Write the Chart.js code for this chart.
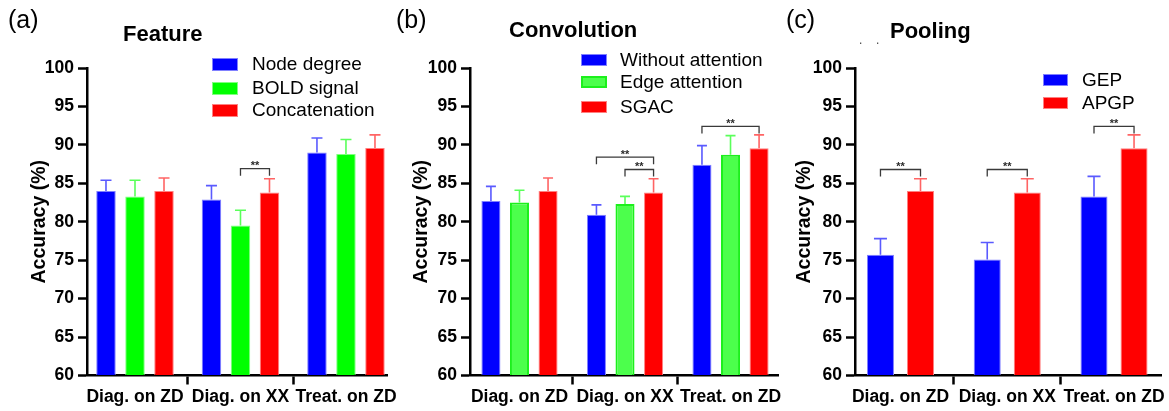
<!DOCTYPE html>
<html><head><meta charset="utf-8">
<script src="https://cdn.jsdelivr.net/npm/chart.js@4.4.1/dist/chart.umd.min.js"></script>
<style>
html,body{margin:0;padding:0;background:#fff;overflow:hidden;width:1169px;height:411px;}
body{position:relative;font-family:'Liberation Sans',Arial,Helvetica,sans-serif;}
canvas{position:absolute;top:0;}
.t{position:absolute;white-space:nowrap;color:#000;line-height:1;}
.panel{font-size:25px;font-weight:normal;}
.title{font-size:22px;font-weight:bold;}
.lrow{position:absolute;height:22px;display:flex;align-items:center;white-space:nowrap;font-size:19px;color:#000;}
.sw{position:absolute;box-sizing:border-box;}
</style></head><body>
<canvas id="ca" width="430" height="411" style="left:0px"></canvas>
<canvas id="cb" width="430" height="411" style="left:390px"></canvas>
<canvas id="cc" width="400" height="411" style="left:780px"></canvas>
<div class="t panel" style="left:8px;top:7px">(a)</div>
<div class="t panel" style="left:396px;top:7px">(b)</div>
<div class="t panel" style="left:786px;top:7px">(c)</div>
<div class="t title" style="left:123px;top:23.4px">Feature</div>
<div class="t title" style="left:509px;top:19.4px">Convolution</div>
<div class="t title" style="left:890px;top:19.7px">Pooling</div>
<div class="t" style="left:859px;top:34px;font-size:12px;color:#444">.</div>
<div class="t" style="left:876px;top:34px;font-size:12px;color:#444">.</div>
<div id="legends"></div>
<script>
// ---------------- data ----------------
const categories = ['Diag. on ZD', 'Diag. on XX', 'Treat. on ZD'];
const yTicks = [60, 65, 70, 75, 80, 85, 90, 95, 100];

// (a) Feature
const featureLabels = ['Node degree', 'BOLD signal', 'Concatenation'];
const featureNodeDegree = [84.0, 82.9, 89.0];
const featureNodeDegreeErr = [1.4, 1.8, 1.9];
const featureBold = [83.3, 79.5, 88.8];
const featureBoldErr = [2.1, 2.0, 1.9];
const featureConcat = [84.0, 83.8, 89.6];
const featureConcatErr = [1.7, 1.8, 1.7];
const featureSig = [{cat: 1, from: 1, to: 2, level: 86.9, text: '**'}];

// (b) Convolution
const convLabels = ['Without attention', 'Edge attention', 'SGAC'];
const convWithout = [82.7, 80.9, 87.4];
const convWithoutErr = [1.9, 1.3, 2.5];
const convEdge = [82.5, 82.3, 88.7];
const convEdgeErr = [1.6, 1.0, 2.5];
const convSGAC = [84.0, 83.8, 89.55];
const convSGACErr = [1.7, 1.8, 1.75];
const convSig = [
  {cat: 1, from: 0, to: 2, level: 88.4, text: '**'},
  {cat: 1, from: 1, to: 2, level: 86.8, text: '**'},
  {cat: 2, from: 0, to: 2, level: 92.4, text: '**'}
];

// (c) Pooling
const poolLabels = ['GEP', 'APGP'];
const poolGEP = [75.7, 75.1, 83.3];
const poolGEPErr = [2.1, 2.2, 2.6];
const poolAPGP = [84.0, 83.8, 89.55];
const poolAPGPErr = [1.6, 1.8, 1.75];
const poolSig = [
  {cat: 0, from: 0, to: 1, level: 86.8, text: '**'},
  {cat: 1, from: 0, to: 1, level: 86.8, text: '**'},
  {cat: 2, from: 0, to: 1, level: 92.4, text: '**'}
];

// ---------------- styles ----------------
const BLUE = {fill: '#0000ff', border: '#8080ff', bw: 1, err: '#5a5aff'};
const GREEN = {fill: '#00ff00', border: '#80ff80', bw: 1, err: '#5aff5a'};
const GREEN2 = {fill: '#4cff4c', border: '#1cf01c', bw: 2, err: '#5aff5a'};
const RED = {fill: '#ff0000', border: '#ff8080', bw: 1, err: '#ff6464'};

Chart.defaults.font.family = "'Liberation Sans', Arial, Helvetica, sans-serif";

const annotPlugin = {
  id: 'annot',
  afterDatasetsDraw(chart, args, opts) {
    const ctx = chart.ctx;
    const ys = chart.scales.y;
    ctx.save();
    // error bars (upper only)
    chart.data.datasets.forEach((ds, di) => {
      const meta = chart.getDatasetMeta(di);
      const errs = opts.errors[di];
      ctx.strokeStyle = opts.errColors[di];
      ctx.lineWidth = 1.6;
      meta.data.forEach((el, i) => {
        const v = ds.data[i].y;
        const yt = ys.getPixelForValue(v + errs[i]);
        ctx.beginPath();
        ctx.moveTo(el.x, el.y);
        ctx.lineTo(el.x, yt);
        ctx.moveTo(el.x - opts.cap / 2, yt);
        ctx.lineTo(el.x + opts.cap / 2, yt);
        ctx.stroke();
      });
    });
    // significance brackets
    ctx.strokeStyle = '#3a3a3a';
    ctx.fillStyle = '#2a2a2a';
    ctx.lineWidth = 1.3;
    ctx.font = "bold 11px 'Liberation Sans', Arial, sans-serif";
    ctx.textAlign = 'center';
    ctx.textBaseline = 'alphabetic';
    opts.sig.forEach(s => {
      const x1 = chart.getDatasetMeta(s.from).data[s.cat].x;
      const x2 = chart.getDatasetMeta(s.to).data[s.cat].x;
      const y = ys.getPixelForValue(s.level);
      ctx.beginPath();
      ctx.moveTo(x1, y + 7);
      ctx.lineTo(x1, y);
      ctx.lineTo(x2, y);
      ctx.lineTo(x2, y + 7);
      ctx.stroke();
      ctx.fillText(s.text, (x1 + x2) / 2, y + 0.5);
    });
    ctx.restore();
  }
};

function makeChart(id, cfg) {
  return new Chart(document.getElementById(id), {
    type: 'bar',
    data: {
      datasets: cfg.series.map(s => ({
        label: s.label,
        data: s.values.map((v, i) => ({x: i, y: v})),
        backgroundColor: s.style.fill,
        borderColor: s.style.border,
        borderWidth: s.style.bw,
        borderSkipped: 'start',
        base: 60,
        categoryPercentage: cfg.catPct,
        barPercentage: cfg.barPct
      }))
    },
    plugins: [annotPlugin],
    options: {
      responsive: false,
      animation: false,
      devicePixelRatio: 1,
      layout: {padding: {left: 0, top: 68, right: cfg.padRight, bottom: 0}},
      plugins: {
        legend: {display: false},
        tooltip: {enabled: false},
        annot: {
          errors: cfg.series.map(s => s.err),
          errColors: cfg.series.map(s => s.style.err),
          cap: cfg.cap,
          sig: cfg.sig
        }
      },
      scales: {
        x: {
          type: 'linear',
          min: cfg.xmin, max: cfg.xmax,
          offset: false,
          afterBuildTicks: s => { s.ticks = categories.map((c, i) => ({value: i})); },
          afterFit: s => { s.height = 35.5; },
          ticks: {
            callback: v => categories[v],
            autoSkip: false, maxRotation: 0, minRotation: 0,
            padding: 2, color: '#000',
            font: {size: 17.5, weight: 'bold'}
          },
          grid: {drawOnChartArea: false, drawTicks: true, tickLength: 9, tickWidth: 2.5, tickColor: '#000'},
          border: {display: true, color: '#000', width: 2.5}
        },
        y: {
          min: 60, max: 100,
          afterBuildTicks: s => { s.ticks = yTicks.map(v => ({value: v})); },
          afterFit: s => { s.width = cfg.yWidth; },
          ticks: {padding: 4, color: '#000', font: {size: 17.5, weight: 'bold'}},
          grid: {drawOnChartArea: false, drawTicks: true, tickLength: 9, tickWidth: 2.5, tickColor: '#000'},
          border: {display: true, color: '#000', width: 2.5},
          title: {
            display: true, text: 'Accuracy (%)', color: '#000',
            font: {size: 19.5, weight: 'bold'},
            padding: {top: cfg.titlePad, bottom: 0}
          }
        }
      }
    }
  });
}

makeChart('ca', {
  series: [
    {label: featureLabels[0], values: featureNodeDegree, err: featureNodeDegreeErr, style: BLUE},
    {label: featureLabels[1], values: featureBold, err: featureBoldErr, style: GREEN},
    {label: featureLabels[2], values: featureConcat, err: featureConcatErr, style: RED}
  ],
  sig: featureSig,
  xmin: -0.455, xmax: 2.389, yWidth: 87, padRight: 43, titlePad: 28.3,
  catPct: 0.825, barPct: 0.672, cap: 11
});
makeChart('cb', {
  series: [
    {label: convLabels[0], values: convWithout, err: convWithoutErr, style: BLUE},
    {label: convLabels[1], values: convEdge, err: convEdgeErr, style: GREEN2},
    {label: convLabels[2], values: convSGAC, err: convSGACErr, style: RED}
  ],
  sig: convSig,
  xmin: -0.469, xmax: 2.450, yWidth: 80, padRight: 42, titlePad: 20.3,
  catPct: 0.812, barPct: 0.667, cap: 10
});
makeChart('cc', {
  series: [
    {label: poolLabels[0], values: poolGEP, err: poolGEPErr, style: BLUE},
    {label: poolLabels[1], values: poolAPGP, err: poolAPGPErr, style: RED}
  ],
  sig: poolSig,
  xmin: -0.426, xmax: 2.440, yWidth: 75, padRight: 19, titlePad: 13.3,
  catPct: 0.75, barPct: 0.675, cap: 13
});

// ---------------- legends (HTML) ----------------
const legendDefs = [
  {labels: featureLabels, styles: [BLUE, GREEN, RED], swLeft: 212, swW: 26, swH: 13, textLeft: 252, rows: [64, 88, 110]},
  {labels: convLabels, styles: [BLUE, GREEN2, RED], swLeft: 581, swW: 26, swH: 12, textLeft: 620, rows: [59.5, 81.5, 107]},
  {labels: poolLabels, styles: [BLUE, RED], swLeft: 1043, swW: 25, swH: 12, textLeft: 1082, rows: [80, 103]}
];
const host = document.getElementById('legends');
legendDefs.forEach(L => {
  L.labels.forEach((lab, i) => {
    const st = L.styles[i];
    const sw = document.createElement('div');
    sw.className = 'sw';
    sw.style.left = L.swLeft + 'px';
    sw.style.top = (L.rows[i] - L.swH / 2) + 'px';
    sw.style.width = L.swW + 'px';
    sw.style.height = L.swH + 'px';
    sw.style.background = st.fill;
    sw.style.border = (st.bw > 1 ? 2 : 1) + 'px solid ' + st.border;
    host.appendChild(sw);
    const row = document.createElement('div');
    row.className = 'lrow';
    row.style.left = L.textLeft + 'px';
    row.style.top = (L.rows[i] - 11) + 'px';
    row.textContent = lab;
    host.appendChild(row);
  });
});
</script>
</body></html>
